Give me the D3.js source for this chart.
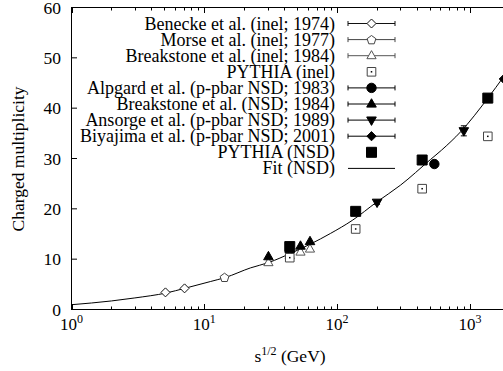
<!DOCTYPE html>
<html>
<head>
<meta charset="utf-8">
<script src="https://cdn.jsdelivr.net/npm/d3@7"></script>
<style>
body { margin: 0; background: #fff; }
svg { display: block; font-family: "Liberation Serif", "Times New Roman", serif; }
</style>
</head>
<body>
<script>
// values
const benX = [5.1, 7.1], benY = [3.4, 4.2];
const morX = [14.2], morY = [6.4];
const brkInelX = [30.4, 44, 53, 62.5], brkInelY = [9.3, 10.7, 11.4, 12.0];
const pyInelX = [44, 138, 437, 1364], pyInelY = [10.3, 16.0, 24.0, 34.4];
const alpX = [540], alpY = [28.9];
const brkNsdX = [30.4, 44, 53, 62.5], brkNsdY = [10.5, 11.9, 12.6, 13.5];
const ansX = [200, 900], ansY = [21.3, 35.5], ansErr = [0.4, 1.0];
const biyX = [1800], biyY = [45.8];
const pyNsdX = [44, 138, 437, 1364], pyNsdY = [12.5, 19.5, 29.7, 42.0];
const fitX = [1, 2, 3, 5.2, 7.1, 11.1, 14.4, 22.3, 30.6, 45, 63, 89, 130, 200, 300, 505, 611, 851, 1366, 1800];
const fitY = [0.95, 1.7, 2.3, 3.3, 4.2, 5.55, 6.36, 8.27, 9.34, 11.2, 13.0, 15.1, 17.7, 21.4, 24.7, 29.8, 31.65, 35.3, 42.0, 46.3];

const legendLabels = [
  "Benecke et al. (inel; 1974)",
  "Morse et al. (inel; 1977)",
  "Breakstone et al. (inel; 1984)",
  "PYTHIA (inel)",
  "Alpgard et al. (p-pbar NSD; 1983)",
  "Breakstone et al. (NSD; 1984)",
  "Ansorge et al. (p-pbar NSD; 1989)",
  "Biyajima et al. (p-pbar NSD; 2001)",
  "PYTHIA (NSD)",
  "Fit (NSD)"
];
const yTicks = [0, 10, 20, 30, 40, 50, 60];
const xTickExp = [0, 1, 2, 3];

const W = 503, H = 371;
const svg = d3.select("body").append("svg").attr("width", W).attr("height", H);

const x = d3.scaleLog().domain([1, Math.pow(10, 3.5)]).range([71.5, 71.5 + 3.5 * 132.8]);
const y = d3.scaleLinear().domain([0, 60]).range([309.5, 7.5]);

// frame
svg.append("rect")
  .attr("x", x(1)).attr("y", y(60))
  .attr("width", x.range()[1] - x(1)).attr("height", y(0) - y(60))
  .attr("fill", "none").attr("stroke", "#000").attr("stroke-width", 1);

// x ticks (major + minor, on bottom and top)
const xt = x.ticks();
const isMajor = v => Math.abs(Math.log10(v) - Math.round(Math.log10(v))) < 1e-9;
const tickG = svg.append("g").attr("stroke", "#000").attr("stroke-width", 1);
xt.forEach(v => {
  const len = isMajor(v) ? 5.5 : 3;
  const px = Math.round(x(v)) + 0.5;
  tickG.append("line").attr("x1", px).attr("x2", px).attr("y1", y(0)).attr("y2", y(0) - len);
  tickG.append("line").attr("x1", px).attr("x2", px).attr("y1", y(60)).attr("y2", y(60) + len);
});
yTicks.forEach(v => {
  tickG.append("line").attr("x1", x(1)).attr("x2", x(1) + 5.5).attr("y1", y(v)).attr("y2", y(v));
});

// tick labels
svg.append("g").selectAll("text").data(yTicks).join("text")
  .attr("x", 61).attr("y", d => y(d) + 6)
  .attr("text-anchor", "end").attr("font-size", 17.5)
  .text(d => d);

const xl = svg.append("g").selectAll("text").data(xTickExp).join("text")
  .attr("x", d => x(Math.pow(10, d))).attr("y", 330)
  .attr("text-anchor", "middle").attr("font-size", 17);
xl.append("tspan").text("10");
xl.append("tspan").attr("font-size", 12).attr("dy", -7).text(d => d);

// axis titles
const xTitle = svg.append("text").attr("x", 290).attr("y", 362)
  .attr("text-anchor", "middle").attr("font-size", 17.5);
xTitle.append("tspan").text("s");
xTitle.append("tspan").attr("font-size", 12).attr("dy", -7).text("1/2");
xTitle.append("tspan").attr("dy", 7).text(" (GeV)");

svg.append("text")
  .attr("transform", "translate(23.5,159) rotate(-90)")
  .attr("text-anchor", "middle").attr("font-size", 17.5)
  .text("Charged multiplicity");

// symbol shapes
function shape(type, r) {
  let pts;
  if (type === "diamond") pts = [[0, -r], [r, 0], [0, r], [-r, 0]];
  else if (type === "square") pts = [[-r, -r], [r, -r], [r, r], [-r, r]];
  else if (type === "triUp") pts = [[0, -r * 1.1], [r, r * 0.65], [-r, r * 0.65]];
  else if (type === "triDown") pts = [[0, r * 1.1], [r, -r * 0.65], [-r, -r * 0.65]];
  else if (type === "pentagon") pts = d3.range(5).map(i => {
    const a = -Math.PI / 2 + i * 2 * Math.PI / 5;
    return [r * Math.cos(a), r * Math.sin(a) + 0.5];
  });
  else if (type === "circle") return d3.symbol(d3.symbolCircle, Math.PI * r * r)();
  return "M" + pts.map(p => p.join(",")).join("L") + "Z";
}

const series = [
  { xs: benX, ys: benY, type: "diamond", r: 4.5, fill: "#fff", color: "#111", bar: true },
  { xs: morX, ys: morY, type: "pentagon", r: 4.6, fill: "#fff", color: "#444", bar: true },
  { xs: brkInelX, ys: brkInelY, type: "triUp", r: 4.6, fill: "#fff", color: "#555", bar: true },
  { xs: pyInelX, ys: pyInelY, type: "square", r: 4.3, fill: "#fff", color: "#444", bar: false, dot: true },
  { xs: alpX, ys: alpY, type: "circle", r: 4.7, fill: "#000", color: "#000", bar: true },
  { xs: brkNsdX, ys: brkNsdY, type: "triUp", r: 4.8, fill: "#000", color: "#000", bar: true },
  { xs: ansX, ys: ansY, type: "triDown", r: 4.8, fill: "#000", color: "#000", bar: true, errs: ansErr },
  { xs: biyX, ys: biyY, type: "diamond", r: 4.6, fill: "#000", color: "#000", bar: true },
  { xs: pyNsdX, ys: pyNsdY, type: "square", r: 5, fill: "#000", color: "#000", bar: false }
];

// fit curve
const line = d3.line().curve(d3.curveMonotoneX).x(d => x(d[0])).y(d => y(d[1]));
svg.append("path").datum(d3.zip(fitX, fitY))
  .attr("fill", "none").attr("stroke", "#000").attr("stroke-width", 1)
  .attr("d", line);

function drawMark(g, s, cx, cy) {
  g.append("path").attr("transform", `translate(${cx},${cy})`)
    .attr("d", shape(s.type, s.r))
    .attr("fill", s.fill).attr("stroke", s.color).attr("stroke-width", 1);
  if (s.dot) g.append("rect").attr("x", cx - 0.75).attr("y", cy - 0.75)
    .attr("width", 1.5).attr("height", 1.5).attr("fill", "#000");
}

// data points
const dataG = svg.append("g");
series.forEach(s => {
  s.xs.forEach((xv, i) => {
    const cx = x(xv), cy = y(s.ys[i]);
    if (s.errs) {
      const e = s.errs[i];
      dataG.append("line").attr("x1", cx).attr("x2", cx)
        .attr("y1", y(s.ys[i] - e)).attr("y2", y(s.ys[i] + e)).attr("stroke", "#000");
      [s.ys[i] - e, s.ys[i] + e].forEach(v => dataG.append("line")
        .attr("x1", cx - 3).attr("x2", cx + 3).attr("y1", y(v)).attr("y2", y(v)).attr("stroke", "#000"));
    }
    drawMark(dataG, s, cx, cy);
  });
});

// legend
const legG = svg.append("g");
const legY0 = 23.5, legDy = 16.1, lx1 = 348, lx2 = 395, lsym = 371.5;
legendLabels.forEach((lab, i) => {
  const cy = legY0 + i * legDy;
  legG.append("text").attr("x", 335).attr("y", cy + 6)
    .attr("text-anchor", "end").attr("font-size", 18).text(lab);
  const s = series[i];
  if (!s) {
    legG.append("line").attr("x1", lx1).attr("x2", lx2).attr("y1", cy).attr("y2", cy)
      .attr("stroke", "#000");
    return;
  }
  if (s.bar) {
    legG.append("line").attr("x1", lx1).attr("x2", lx2).attr("y1", cy).attr("y2", cy)
      .attr("stroke", s.color);
    [lx1, lx2].forEach(px => legG.append("line")
      .attr("x1", px).attr("x2", px).attr("y1", cy - 2.5).attr("y2", cy + 2.5)
      .attr("stroke", s.color));
  }
  drawMark(legG, s, lsym, cy);
});
</script>
</body>
</html>
